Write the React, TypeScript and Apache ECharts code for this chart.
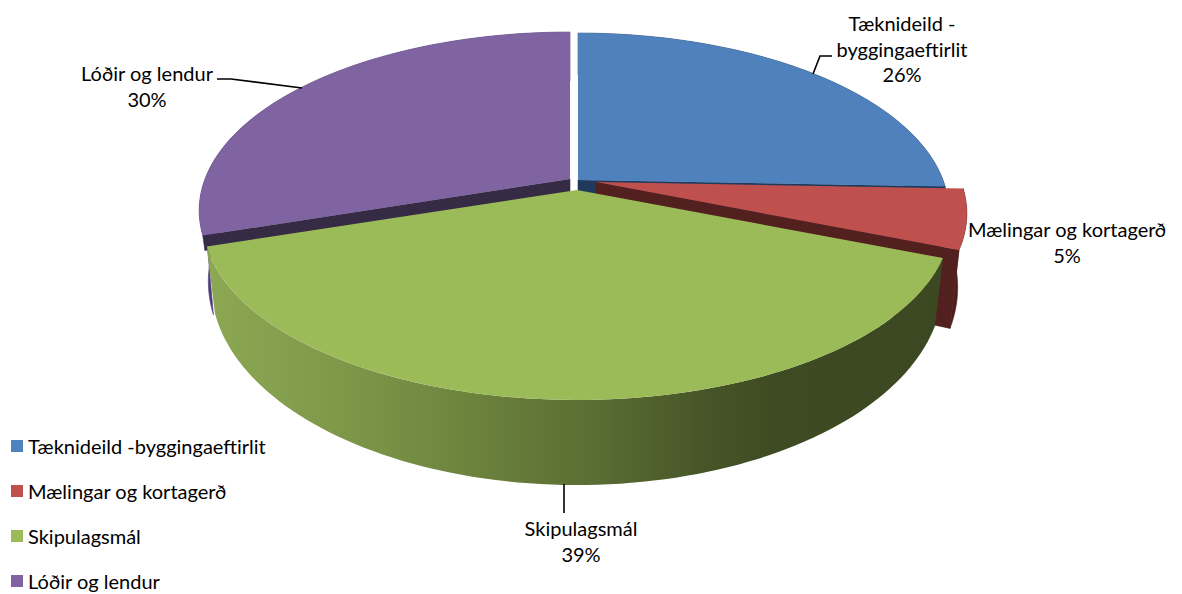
import React, { useEffect, useRef } from "react";
import * as echarts from "echarts";

const categories = ["Tæknideild -byggingaeftirlit", "Mælingar og kortagerð", "Skipulagsmál", "Lóðir og lendur"];
const labelNames = ["Tæknideild -\nbyggingaeftirlit", "Mælingar og kortagerð", "Skipulagsmál", "Lóðir og lendur"];
const values = [25.6, 5.4, 39, 30];
const topColors = ["#4F81BD", "#C0504D", "#9BBB59", "#8064A2"];
const cutColors = ["#1F3A5C", "#52201E", "#3E4A22", "#362B45"];
const FONT = "Lato";
const FONT_SIZE = 20;

// perspective model of the pie plane
const K = 0.1765;
const H_TOP = 172.9;
const H_BOTTOM = 194;

const sliceLayout = [
  { ax: 578, ay: 180, drop: 60, z: 2, r: 365, rb: 360, wallTop: 0, wallBottom: 0, cutDrop: 0 },
  { ax: 596, ay: 182, drop: 70, z: 3, r: 365, rb: 356, wallTop: 0, wallBottom: 0, cutDrop: 0 },
  { ax: 577, ay: 190, drop: 59.5, z: 4, r: 368, rb: 360, wallTop: 0, wallBottom: 0, cutDrop: 0 },
  { ax: 570, ay: 179, drop: 67, z: 1, r: 365, rb: 356, wallTop: 4, wallBottom: 1.5, cutDrop: 15 },
];
const labelLayout = [
  { x: 902, y: 48.5 },
  { x: 1067, y: 242 },
  { x: 581, y: 541 },
  { x: 147, y: 86 },
];
const leaders: number[][][] = [
  [[813, 74], [820, 56], [832, 56]],
  [],
  [[564, 484], [564, 513]],
  [[302, 88], [231, 79], [217, 79]],
];

const greenWall = {
  type: "linear", x: 0, y: 0, x2: 1, y2: 0,
  colorStops: [
    { offset: 0, color: "#8CA853" },
    { offset: 0.18, color: "#7E9849" },
    { offset: 0.36, color: "#6C833D" },
    { offset: 0.52, color: "#5B6E34" },
    { offset: 0.68, color: "#465527" },
    { offset: 0.78, color: "#3E4A22" },
    { offset: 1, color: "#3C4821" },
  ],
};
const wallFills: any[] = ["#2F4B70", "#4F1E1C", greenWall, "#4F3C78"];

function point(deg: number, ax: number, ay: number, r: number, h: number) {
  const t = (deg * Math.PI) / 180;
  const u = Math.sin(t);
  const v = -Math.cos(t);
  const f = 1 / (1 - K * v);
  return [ax + r * u * f, ay + h * v * f];
}

function arc(a0: number, a1: number, ax: number, ay: number, r: number, h: number) {
  const n = Math.max(2, Math.ceil(Math.abs(a1 - a0) / 1.5));
  const pts: number[][] = [];
  for (let i = 0; i <= n; i++) pts.push(point(a0 + ((a1 - a0) * i) / n, ax, ay, r, h));
  return pts;
}

function sliceAngles(index: number) {
  const total = values.reduce((s, x) => s + x, 0);
  // the pie starts at 12 o'clock and runs clockwise
  const start = values.slice(0, index).reduce((s, x) => s + x, 0);
  return [(start / total) * 360, ((start + values[index]) / total) * 360];
}

function renderSlice(index: number) {
  const { ax, ay, drop, r, rb, wallTop, wallBottom, cutDrop } = sliceLayout[index];
  const [a0, a1] = sliceAngles(index);
  const topArc = arc(a0, a1, ax, ay, r, H_TOP);
  const wallTopArc = arc(a0 - wallTop, a1, ax, ay, r, H_TOP);
  const botArc = arc(a0 - wallBottom, a1, ax, ay + drop, rb, H_BOTTOM);
  const children: any[] = [];

  // outer wall
  const wallStroke = index === 2 ? undefined : wallFills[index];
  children.push({
    type: "polygon",
    shape: { points: [...wallTopArc, ...botArc.slice().reverse()] },
    style: { fill: wallFills[index], stroke: wallStroke, lineWidth: wallStroke ? 0.6 : 0 },
    silent: true,
  });

  // cut face: the radial edge turned to the viewer
  const faceAngle = index === 3 ? a0 : index === 2 ? null : a1;
  if (faceAngle !== null) {
    const outerTop = point(faceAngle, ax, ay, r, H_TOP);
    const outerBottom = cutDrop
      ? [outerTop[0] + 2, outerTop[1] + cutDrop]
      : point(faceAngle, ax, ay + drop, rb, H_BOTTOM);
    children.push({
      type: "polygon",
      shape: {
        points: [[ax, ay], outerTop, outerBottom, [ax, ay + (cutDrop || drop)]],
      },
      style: { fill: cutColors[index], stroke: cutColors[index], lineWidth: 0.6 },
      silent: true,
    });
  }

  // top face
  children.push({
    type: "polygon",
    shape: { points: [[ax, ay], ...topArc] },
    style: { fill: topColors[index] },
    silent: true,
  });

  return { type: "group", children };
}

function renderLabel(index: number) {
  const children: any[] = [];
  if (leaders[index].length) {
    children.push({
      type: "polyline",
      shape: { points: leaders[index] },
      style: { stroke: "#000", lineWidth: 1.6, fill: "none" },
      silent: true,
    });
  }
  children.push({
    type: "text",
    x: labelLayout[index].x,
    y: labelLayout[index].y,
    style: {
      text: `${labelNames[index]}\n${Math.round(values[index])}%`,
      fill: "#000",
      font: `${FONT_SIZE}px ${FONT}`,
      lineHeight: 25.5,
      align: "center",
      verticalAlign: "middle",
    },
    silent: true,
  });
  return { type: "group", children };
}

export default function App() {
  const ref = useRef<HTMLDivElement>(null);
  useEffect(() => {
    const chart = echarts.init(ref.current!, null, { renderer: "svg" });
    chart.setOption({
      animation: false,
      backgroundColor: "#fff",
      legend: {
        orient: "vertical",
        left: 11,
        top: 435,
        height: 400,
        padding: 0,
        itemWidth: 12,
        itemHeight: 12,
        itemGap: 23,
        icon: "rect",
        selectedMode: false,
        data: categories,
        textStyle: { fontFamily: FONT, fontSize: FONT_SIZE, color: "#000", lineHeight: 22 },
      },
      series: categories
        .map((name, i) => ({
          type: "custom",
          name,
          coordinateSystem: "none",
          silent: true,
          z: sliceLayout[i].z,
          itemStyle: { color: topColors[i] },
          data: [values[i]],
          renderItem: () => renderSlice(i),
        }))
        .concat(
          categories.map((name, i) => ({
            type: "custom",
            name: `${name} label`,
            coordinateSystem: "none",
            silent: true,
            z: 10,
            data: [values[i]],
            renderItem: () => renderLabel(i),
          })) as any
        ),
    });
    return () => chart.dispose();
  }, []);
  return <div ref={ref} style={{ position: "absolute", left: 0, top: 0, width: 1182, height: 594 }} />;
}
